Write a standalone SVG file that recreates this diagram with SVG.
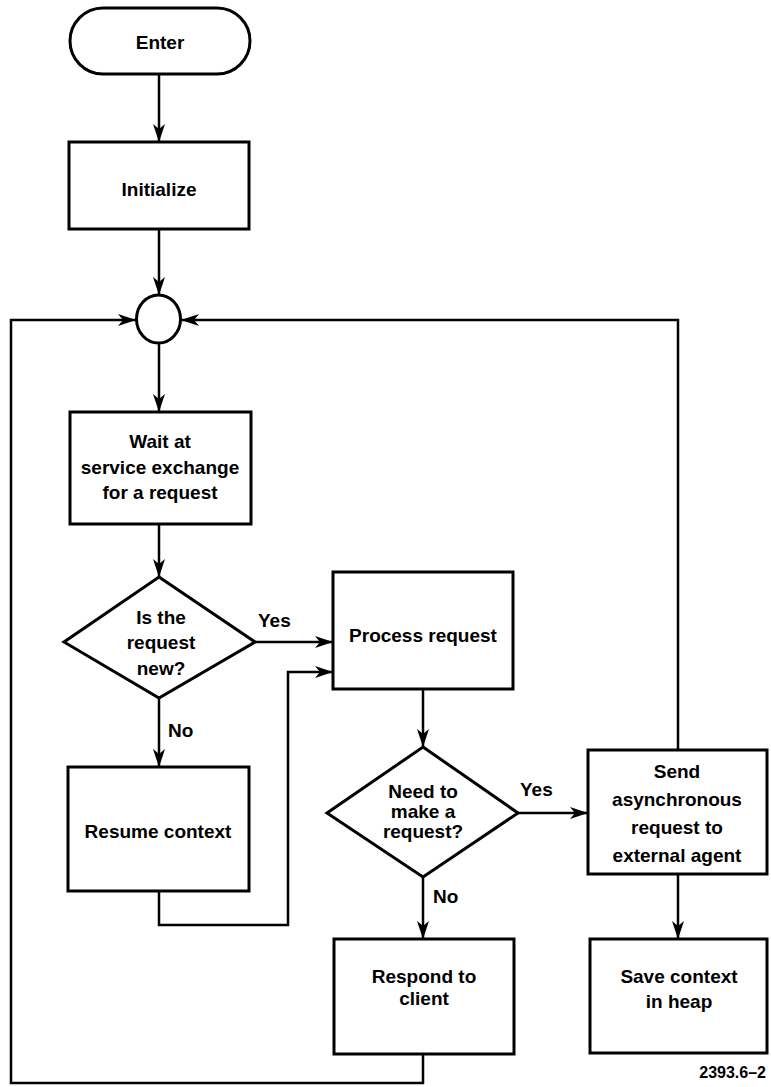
<svg xmlns="http://www.w3.org/2000/svg" width="771" height="1087" viewBox="0 0 771 1087">
  <style>
    .shape { fill: #fff; stroke: #000; stroke-width: 3; }
    .arrow { fill: none; stroke: #000; stroke-width: 2.5; marker-end: url(#head); }
    text { font-family: "Liberation Sans", Arial, sans-serif; font-weight: bold; font-size: 19px; fill: #000; }
    .c { text-anchor: middle; }
    .tag { font-size: 16px; text-anchor: end; }
  </style>
  <defs>
    <marker id="head" viewBox="0 0 18 12" refX="18" refY="6" markerWidth="18" markerHeight="12" markerUnits="userSpaceOnUse" orient="auto">
      <path d="M0,0 L18,6 L0,12 L5,6 z" fill="#000"/>
    </marker>
  </defs>

  <!-- connectors -->
  <g id="connectors">
    <line class="arrow" x1="159" y1="74" x2="159" y2="142"/>
    <line class="arrow" x1="159" y1="229" x2="159" y2="295"/>
    <line class="arrow" x1="159" y1="343" x2="159" y2="412"/>
    <line class="arrow" x1="159" y1="524" x2="159" y2="577"/>
    <line class="arrow" x1="159" y1="698" x2="159" y2="767"/>
    <line class="arrow" x1="255" y1="642" x2="333" y2="642"/>
    <path class="arrow" d="M159,891 V925 H288 V672 H333"/>
    <line class="arrow" x1="423" y1="689" x2="423" y2="747"/>
    <line class="arrow" x1="518" y1="813" x2="588" y2="813"/>
    <line class="arrow" x1="423" y1="877" x2="423" y2="939"/>
    <line class="arrow" x1="678" y1="874" x2="678" y2="939"/>
    <path class="arrow" d="M423,1054 V1083 H11 V320 H136"/>
    <path class="arrow" d="M678,750 V320 H181"/>
    <text x="258" y="627">Yes</text>
    <text x="168" y="737">No</text>
    <text x="520" y="796">Yes</text>
    <text x="433" y="903">No</text>
  </g>

  <g id="enter">
    <rect class="shape" x="70" y="8" width="180" height="66" rx="33"/>
    <text class="c" x="160" y="49">Enter</text>
  </g>

  <g id="initialize">
    <rect class="shape" x="69" y="142" width="180" height="87"/>
    <text class="c" x="159" y="196">Initialize</text>
  </g>

  <g id="junction">
    <ellipse class="shape" cx="158.5" cy="319" rx="22" ry="24"/>
  </g>

  <g id="wait">
    <rect class="shape" x="70" y="412" width="181" height="112"/>
    <text class="c" x="160" y="448">Wait at</text>
    <text class="c" x="160" y="474">service exchange</text>
    <text class="c" x="160" y="499">for a request</text>
  </g>

  <g id="is-new">
    <polygon class="shape" points="159,577 255,642 159,698 64,642"/>
    <text class="c" x="161" y="624">Is the</text>
    <text class="c" x="161" y="649">request</text>
    <text class="c" x="161" y="675">new?</text>
  </g>

  <g id="process">
    <rect class="shape" x="333" y="572" width="180" height="117"/>
    <text class="c" x="423" y="642">Process request</text>
  </g>

  <g id="resume">
    <rect class="shape" x="68" y="767" width="181" height="124"/>
    <text class="c" x="158" y="838">Resume context</text>
  </g>

  <g id="need-request">
    <polygon class="shape" points="423,747 518,813 423,877 327,813"/>
    <text class="c" x="423" y="798">Need to</text>
    <text class="c" x="423" y="818">make a</text>
    <text class="c" x="423" y="838">request?</text>
  </g>

  <g id="send">
    <rect class="shape" x="588" y="750" width="179" height="124"/>
    <text class="c" x="677" y="778">Send</text>
    <text class="c" x="677" y="806">asynchronous</text>
    <text class="c" x="677" y="834">request to</text>
    <text class="c" x="677" y="862">external agent</text>
  </g>

  <g id="respond">
    <rect class="shape" x="334" y="939" width="180" height="115"/>
    <text class="c" x="424" y="983">Respond to</text>
    <text class="c" x="424" y="1005">client</text>
  </g>

  <g id="save">
    <rect class="shape" x="590" y="939" width="177" height="114"/>
    <text class="c" x="679" y="983">Save context</text>
    <text class="c" x="679" y="1008">in heap</text>
  </g>

  <text class="tag" x="766" y="1078">2393.6–2</text>
</svg>
